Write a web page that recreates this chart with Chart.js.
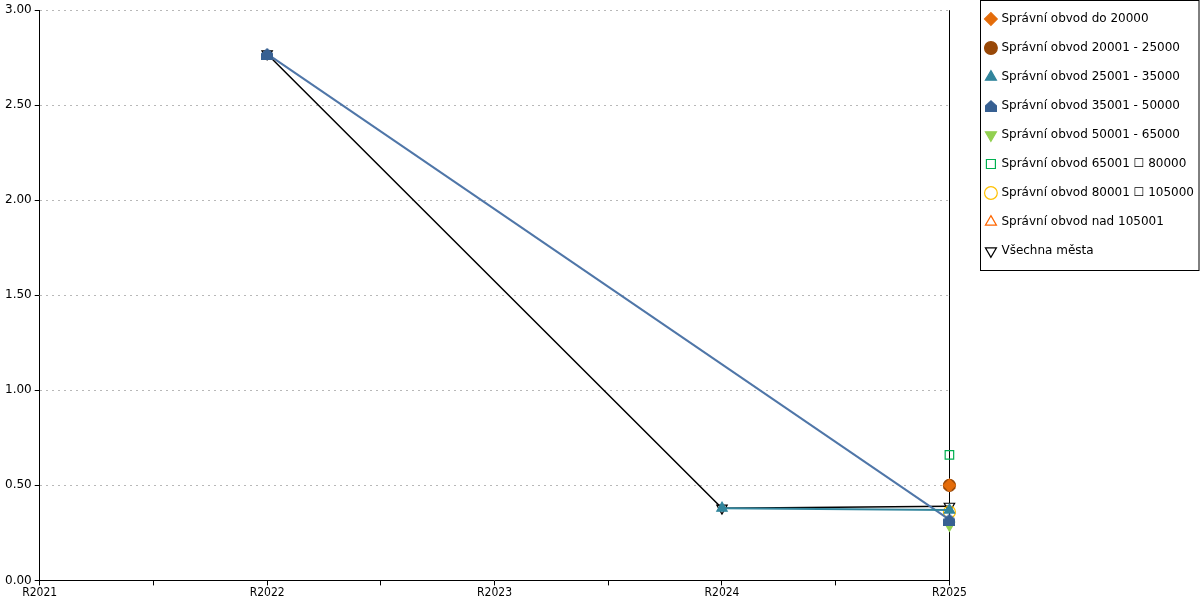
<!DOCTYPE html>
<html>
<head>
<meta charset="utf-8">
<script src="https://cdn.jsdelivr.net/npm/chart.js@4/dist/chart.umd.min.js"></script>
<style>
  html, body { margin: 0; padding: 0; background: #fff; }
  #wrap { width: 1200px; height: 600px; }
</style>
</head>
<body>
<div id="wrap"><canvas id="chart"></canvas></div>
<script>
// kategorie (roky)
const roky = ['R2021', 'R2022', 'R2023', 'R2024', 'R2025'];

// hodnoty jednotlivých řad
const do20000   = [null, null, null, null, 0.50];
const s20001    = [null, null, null, null, 0.50];
const s25001    = [null, null, null, 0.38, 0.37];
const s35001    = [null, 2.77, null, null, 0.32];
const s50001    = [null, null, null, null, 0.29];
const s65001    = [null, null, null, null, 0.66];
const s80001    = [null, null, null, null, 0.36];
const nad105001 = [null, null, null, null, 0.50];
const vsechna   = [null, 2.77, null, 0.38, 0.39];

// popisky osy y
const yTicks = [0, 0.5, 1, 1.5, 2, 2.5, 3];

const GAP = 16;   // mezera mezi grafem a legendou (layout)
const SHIFT = 20; // posun položek legendy doprava

function body(arr) {
  return arr.map((v, i) => ({ x: i, y: v }));
}

// "domeček" pro řadu 35001 - 50000
function house(color, size) {
  const c = document.createElement('canvas');
  c.width = size; c.height = size;
  const g = c.getContext('2d');
  g.fillStyle = color;
  g.beginPath();
  g.moveTo(size / 2, 0);
  g.lineTo(size, size * 0.45);
  g.lineTo(size, size);
  g.lineTo(0, size);
  g.lineTo(0, size * 0.45);
  g.closePath();
  g.fill();
  return c;
}

// legenda: širší box (mezera), posun a rámeček
const legendBox = {
  id: 'legendBox',
  beforeUpdate(chart) {
    const l = chart.legend;
    if (l && !l._wrapped) {
      const fit = l.fit.bind(l);
      l.fit = function () { fit(); this.width += GAP; };
      l._wrapped = true;
    }
  },
  beforeDraw(chart) {
    const l = chart.legend;
    l.left += SHIFT;
    l.top = -4;
  },
  afterDraw(chart) {
    const l = chart.legend;
    const ctx = chart.ctx;
    const x = Math.round(l.left + 11) + 0.5;
    const bottom = Math.round(l.top + 274) + 0.5;
    ctx.save();
    ctx.strokeStyle = '#000';
    ctx.lineWidth = 1;
    ctx.strokeRect(x, 0.5, 1199 - x, bottom - 0.5);
    ctx.restore();
  }
};

function ds(label, data, opts) {
  return Object.assign({
    label: label,
    data: body(data),
    showLine: false,
    spanGaps: true,
    clip: false,
    pointRadius: 6,
    pointHoverRadius: 6,
    borderWidth: 1.5,
    pointBorderWidth: 1.2
  }, opts);
}

new Chart(document.getElementById('chart'), {
  type: 'line',
  data: {
    datasets: [
      ds('Správní obvod do 20000', do20000, {
        pointStyle: 'rectRot', borderColor: '#e46c0a', backgroundColor: '#e46c0a'
      }),
      ds('Správní obvod 20001 - 25000', s20001, {
        pointStyle: 'circle', borderColor: '#984807', backgroundColor: '#984807'
      }),
      ds('Správní obvod 25001 - 35000', s25001, {
        showLine: true, pointStyle: 'triangle', borderColor: '#31859c', backgroundColor: '#31859c', borderWidth: 2
      }),
      ds('Správní obvod 35001 - 50000', s35001, {
        showLine: true, pointStyle: house('#376092', 12), borderColor: '#4f76a8', backgroundColor: '#376092', borderWidth: 2
      }),
      ds('Správní obvod 50001 - 65000', s50001, {
        pointStyle: 'triangle', pointRotation: 180, borderColor: '#92d050', backgroundColor: '#92d050'
      }),
      ds('Správní obvod 65001 \u2610 80000', s65001, {
        pointStyle: 'rect', borderColor: '#00b050', backgroundColor: 'rgba(0,0,0,0)'
      }),
      ds('Správní obvod 80001 \u2610 105000', s80001, {
        pointStyle: 'circle', borderColor: '#ffc000', backgroundColor: 'rgba(0,0,0,0)'
      }),
      ds('Správní obvod nad 105001', nad105001, {
        pointStyle: 'triangle', borderColor: '#ff6600', backgroundColor: 'rgba(0,0,0,0)'
      }),
      ds('Všechna města', vsechna, {
        showLine: true, pointStyle: 'triangle', pointRotation: 180, borderColor: '#000', backgroundColor: 'rgba(0,0,0,0)', borderWidth: 1.5
      })
    ]
  },
  options: {
    responsive: true,
    maintainAspectRatio: false,
    animation: false,
    layout: { padding: { top: 10, left: 2, right: 0, bottom: 0 } },
    plugins: {
      tooltip: { enabled: false },
      legend: {
        position: 'right',
        align: 'start',
        labels: {
          usePointStyle: true,
          boxWidth: 9,
          boxHeight: 9,
          padding: 17,
          color: '#000',
          font: { family: 'DejaVu Sans', size: 12 }
        }
      }
    },
    scales: {
      x: {
        type: 'linear',
        min: 0,
        max: 4,
        afterBuildTicks: axis => {
          axis.ticks = [0, 0.5, 1, 1.5, 2, 2.5, 3, 3.5, 4].map(v => ({ value: v }));
        },
        ticks: {
          autoSkip: false,
          maxRotation: 0,
          padding: 1,
          color: '#000',
          font: { family: 'DejaVu Sans Condensed', size: 12, lineHeight: 1.05 },
          callback: v => Number.isInteger(v) ? roky[v] : ''
        },
        grid: {
          drawOnChartArea: true,
          color: ctx => (ctx.tick && ctx.tick.value === 4) ? '#000' : 'rgba(0,0,0,0)',
          tickColor: '#000',
          tickLength: 5,
          lineWidth: 1
        },
        border: { color: '#000', width: 1 }
      },
      y: {
        min: 0,
        max: 3,
        afterBuildTicks: axis => {
          axis.ticks = yTicks.map(v => ({ value: v }));
        },
        ticks: {
          padding: 3,
          color: '#000',
          font: { family: 'DejaVu Sans', size: 12 },
          callback: v => v.toFixed(2)
        },
        grid: {
          color: '#b8b8b8',
          tickColor: '#000',
          tickLength: 5,
          lineWidth: 1
        },
        border: { color: '#000', width: 1, dash: [2, 4] }
      }
    }
  },
  plugins: [legendBox]
});
</script>
</body>
</html>
